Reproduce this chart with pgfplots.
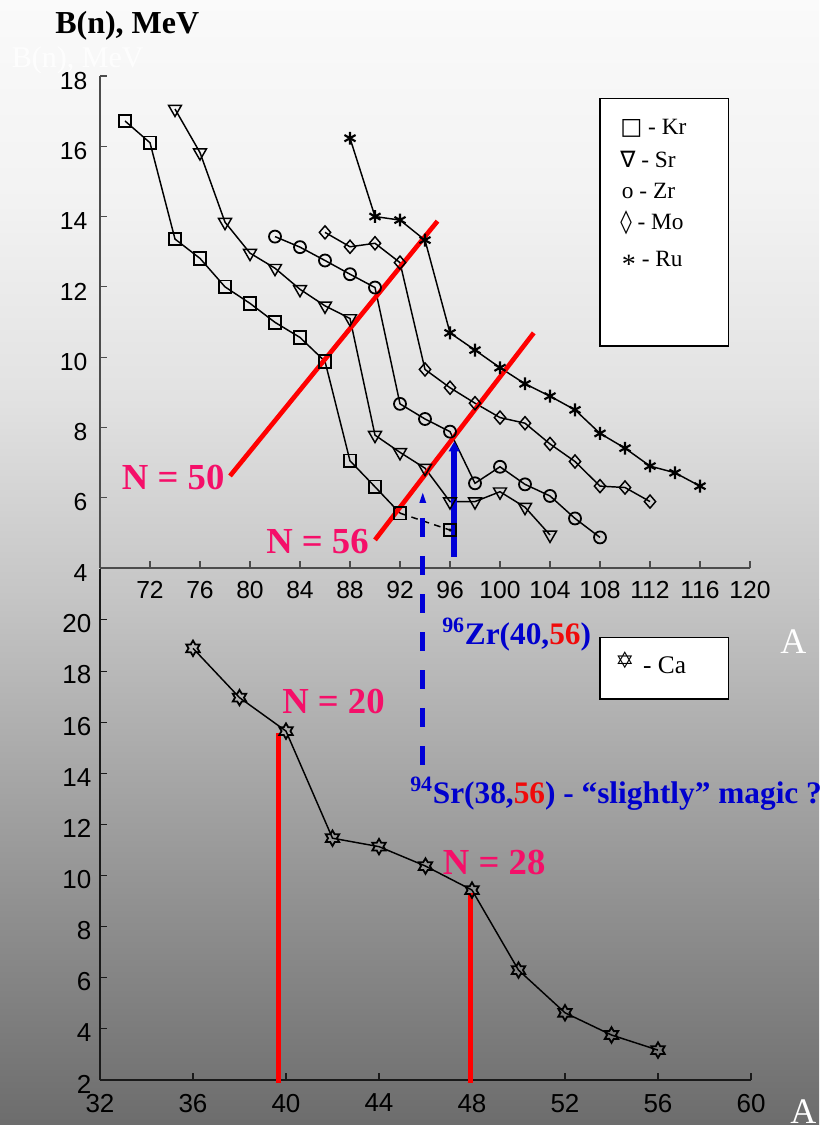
\documentclass[border=0pt]{standalone}
\usepackage{pgfplots}
\pgfplotsset{compat=1.18}
\usetikzlibrary{arrows.meta}
\usepackage{fontspec}
\setmainfont{Liberation Serif}
\setsansfont{Liberation Sans}
\newfontfamily\symfont{DejaVu Sans}

\definecolor{nlabel}{RGB}{245,15,105}
\definecolor{zrblue}{RGB}{0,0,205}
\definecolor{arrowblue}{RGB}{0,0,215}
\definecolor{magred}{RGB}{240,10,10}
\definecolor{g0}{gray}{0.98}
\definecolor{g1}{gray}{0.95}
\definecolor{g2}{gray}{0.885}
\definecolor{g3}{gray}{0.77}
\definecolor{g4}{gray}{0.57}
\definecolor{g5}{gray}{0.425}

% six-pointed star outline
\pgfdeclareplotmark{hexstar}{%
  \pgfpathmoveto{\pgfpointpolar{90}{\pgfplotmarksize}}%
  \pgfpathlineto{\pgfpointpolar{120}{0.577\pgfplotmarksize}}%
  \pgfpathlineto{\pgfpointpolar{150}{\pgfplotmarksize}}%
  \pgfpathlineto{\pgfpointpolar{180}{0.577\pgfplotmarksize}}%
  \pgfpathlineto{\pgfpointpolar{210}{\pgfplotmarksize}}%
  \pgfpathlineto{\pgfpointpolar{240}{0.577\pgfplotmarksize}}%
  \pgfpathlineto{\pgfpointpolar{270}{\pgfplotmarksize}}%
  \pgfpathlineto{\pgfpointpolar{300}{0.577\pgfplotmarksize}}%
  \pgfpathlineto{\pgfpointpolar{330}{\pgfplotmarksize}}%
  \pgfpathlineto{\pgfpointpolar{0}{0.577\pgfplotmarksize}}%
  \pgfpathlineto{\pgfpointpolar{30}{\pgfplotmarksize}}%
  \pgfpathlineto{\pgfpointpolar{60}{0.577\pgfplotmarksize}}%
  \pgfpathclose
  \pgfusepathqstroke
}

\pgfplotsset{
  myaxis/.style={
    scale only axis, anchor=south west, clip=false,
    axis lines*=left,
    tick align=inside, major tick length=5pt,
    /pgf/number format/assume math mode=true,
    /pgf/number format/1000 sep={},
  },
  series/.style={black, line width=1.1pt, mark options={solid, line width=1.35pt}},
  magic/.style={draw=red, line width=3.5pt, no marks},
}

\begin{document}
\begin{tikzpicture}
\useasboundingbox (0pt,0pt) rectangle (614.25pt,843.75pt);
\clip (0pt,0pt) rectangle (614.25pt,843.75pt);

% background (1 unit = 1 pixel = 0.75pt)
\begin{scope}[x=0.75pt,y=0.75pt]
\shade[top color=g0,bottom color=g1] (0,925) rectangle (819,1125);
\shade[top color=g1,bottom color=g2] (0,725) rectangle (819,925.5);
\shade[top color=g2,bottom color=g3] (0,525) rectangle (819,725.5);
\shade[top color=g3,bottom color=g4] (0,225) rectangle (819,525.5);
\shade[top color=g4,bottom color=g5] (0,0) rectangle (819,225.5);
\end{scope}

% ---------- upper panel: Kr, Sr, Zr, Mo, Ru ----------
\begin{axis}[myaxis, at={(75pt,417.75pt)}, width=487.5pt, height=369pt,
  xmin=68, xmax=120, ymin=4, ymax=18,
  xtick={72,76,...,120}, ytick={4,6,...,18},
  axis line style={black!70, line width=0.8pt},
  every tick/.style={black!70, line width=0.8pt},
  tick label style={font=\sffamily\fontsize{18.5}{20}\selectfont},
  xticklabel style={yshift=-6.5pt},
  yticklabel style={xshift=-6pt, yshift=-3.5pt}]

% Kr
\addplot[series, mark=square, mark size=4.7pt] coordinates {
  (70,16.72) (72,16.10) (74,13.36) (76,12.81) (78,12.00) (80,11.53)
  (82,10.99) (84,10.56) (86,9.88) (88,7.05) (90,6.31) (92,5.56)};
\addplot[series, dash pattern=on 5pt off 4pt, mark=square, mark size=4.7pt, mark indices={2}]
  coordinates {(92,5.56) (96,5.08)};
\addplot[only marks, mark=*, mark size=1pt, black] coordinates {(96,5.08)};

% Sr
\addplot[series, mark=triangle, mark size=5.6pt, mark options={rotate=180}] coordinates {
  (74,17.06) (76,15.82) (78,13.84) (80,12.96) (82,12.53) (84,11.93)
  (86,11.46) (88,11.10) (90,7.78) (92,7.29) (94,6.84) (96,5.89)
  (98,5.89) (100,6.17) (102,5.73) (104,4.94)};

% Zr
\addplot[series, mark=o, mark size=4.5pt] coordinates {
  (82,13.43) (84,13.13) (86,12.75) (88,12.36) (90,11.98) (92,8.67)
  (94,8.24) (96,7.88) (98,6.41) (100,6.88) (102,6.38) (104,6.05)
  (106,5.41) (108,4.87)};

% Mo
\addplot[series, mark=diamond, mark size=4.9pt, mark options={xscale=1.15}] coordinates {
  (86,13.55) (88,13.14) (90,13.24) (92,12.69) (94,9.65) (96,9.13)
  (98,8.69) (100,8.28) (102,8.12) (104,7.53) (106,7.03) (108,6.33)
  (110,6.29) (112,5.89)};

% Ru
\addplot[series, mark=asterisk, mark size=4.8pt, mark options={line width=1.6pt}] coordinates {
  (88,16.23) (90,14.00) (92,13.90) (94,13.33) (96,10.69) (98,10.20)
  (100,9.70) (102,9.24) (104,8.89) (106,8.50) (108,7.83) (110,7.41)
  (112,6.90) (114,6.71) (116,6.33)};

% magic-number lines N = 50 and N = 56
\addplot[magic] coordinates {(78.4,6.62) (95.0,13.87)};
\addplot[magic] coordinates {(90.0,4.80) (102.7,10.69)};

% arrows marking 96Zr and 94Sr
\draw[arrowblue, line width=4.3pt, -{Triangle[width=8pt,length=7.5pt]}]
  (axis cs:96.34,4.32) -- (axis cs:96.34,7.60);
\draw[arrowblue, line width=3.75pt, dash pattern=on 14pt off 14.5pt]
  (axis cs:93.82,5.42) -- (axis cs:93.82,-1.61);
\fill[arrowblue] (axis cs:93.54,5.85) -- (axis cs:94.10,5.85) -- (axis cs:93.82,6.14) -- cycle;
\end{axis}

% ---------- lower panel: Ca ----------
\begin{axis}[myaxis, at={(75pt,33.75pt)}, width=488.25pt, height=383.4pt,
  xmin=32, xmax=60, ymin=2, ymax=22,
  xtick={32,36,...,60}, ytick={2,4,...,20},
  axis line style={black!90, line width=0.8pt},
  every tick/.style={black!90, line width=0.8pt},
  tick label style={font=\sffamily\fontsize{19.5}{21}\selectfont},
  xticklabel style={yshift=-7pt},
  yticklabel style={xshift=-3pt, yshift=-3pt}]

\addplot[series, mark=hexstar, mark size=5.8pt] coordinates {
  (36,18.89) (38,16.96) (40,15.65) (42,11.46) (44,11.13) (46,10.37)
  (48,9.43) (50,6.30) (52,4.63) (54,3.76) (56,3.17)};

% N = 20 and N = 28
\addplot[magic] coordinates {(39.69,15.59) (39.69,1.87)};
\addplot[magic] coordinates {(47.94,9.30) (47.94,1.87)};
\end{axis}

% ---------- labels ----------
\begin{scope}[x=0.75pt,y=0.75pt]
\node[anchor=base west, inner sep=0, white, opacity=0.85,
  font=\fontsize{22.5}{24}\selectfont] at (11.7,1057) {B(n), MeV};
\node[anchor=base west, inner sep=0,
  font=\bfseries\fontsize{24}{26}\selectfont] at (55,1091.5) {B(n), MeV};

\begin{scope}[every node/.style={anchor=base west, inner sep=0, nlabel,
  font=\bfseries\fontsize{27.5}{30}\selectfont}]
\node at (121.7,635) {N = 50};
\node at (266,571) {N = 56};
\node at (282,411.5) {N = 20};
\node at (442.7,250) {N = 28};
\end{scope}

\node[anchor=base west, inner sep=0, zrblue, font=\bfseries\fontsize{23.5}{25}\selectfont]
  at (442,480) {\textsuperscript{96}Zr(40,\textcolor{magred}{56})};
\node[anchor=base west, inner sep=0, zrblue, font=\bfseries\fontsize{23.5}{25}\selectfont]
  at (410,321) {\textsuperscript{94}Sr(38,\textcolor{magred}{56}) - “slightly” magic ?};

\node[anchor=base west, inner sep=0, white, font=\fontsize{27}{29}\selectfont] at (780,471) {A};
\node[anchor=base west, inner sep=0, white, font=\fontsize{27}{29}\selectfont] at (790,2) {A};

% legend of the upper panel
\draw[fill=white, line width=1.1pt] (600,779) rectangle (728.3,1026.7);
\begin{scope}[every node/.style={anchor=base west, inner sep=0,
  font=\fontsize{17.5}{19}\selectfont}]
\node at (620,990) {{\symfont\fontsize{17.5}{19}\selectfont □} - Kr};
\node at (620,957.7) {{\symfont\fontsize{17}{19}\selectfont ∇} - Sr};
\node at (621.7,926.7) {o - Zr};
\node at (620,895) {{\symfont\fontsize{17.5}{19}\selectfont ◊} - Mo};
\node at (621.7,858.3) {\raisebox{-0.3em}{\fontsize{21}{22}\selectfont *} - Ru};
\end{scope}

% legend of the lower panel
\draw[fill=white, line width=1.1pt] (600,426) rectangle (728.3,487.7);
\node[anchor=base west, inner sep=0, font=\fontsize{19}{21}\selectfont]
  at (615,451) {\raisebox{0.2em}{\symfont\fontsize{17}{19}\selectfont ✡}\hspace{0.35em}- Ca};
\end{scope}
\end{tikzpicture}
\end{document}
